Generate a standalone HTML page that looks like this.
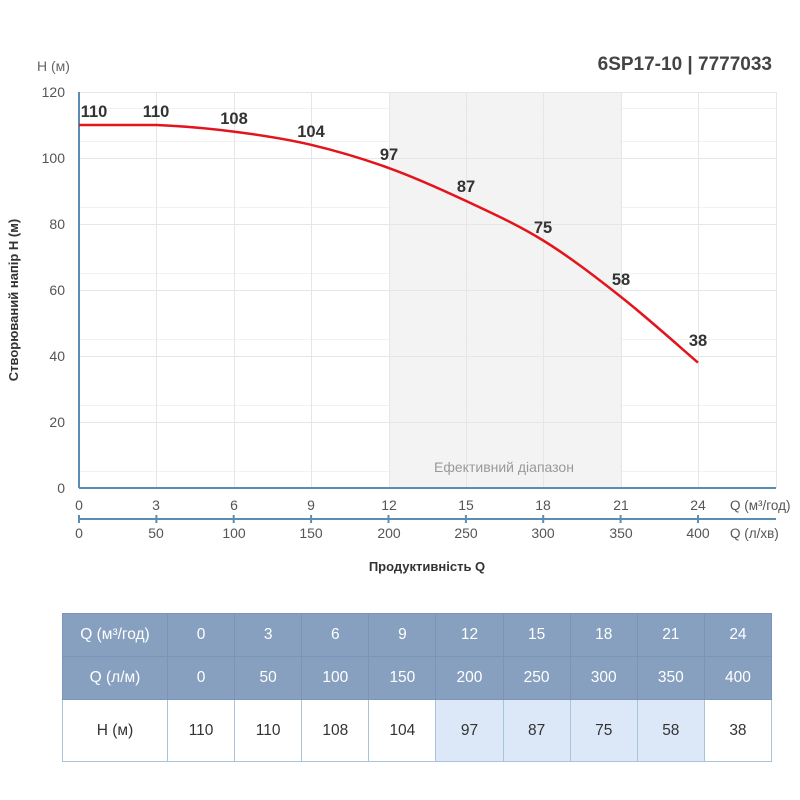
<!DOCTYPE html><html><head><meta charset="utf-8"><style>
body{margin:0;background:#fff;font-family:"Liberation Sans",sans-serif;}
table{position:absolute;left:62px;top:613px;border-collapse:collapse;width:710px;table-layout:fixed;}
td{text-align:center;font-size:15.5px;color:#333;border:1px solid #a9c3d9;padding:0;}
tr.h td{background:#87a0bf;color:#fff;height:42px;border-color:#7a95b5;}
tr.v td{height:61px;background:#fff;}
tr.v td.b{background:#dce8f7;}
</style></head><body>
<svg width="800" height="800" style="position:absolute;left:0;top:0" font-family="Liberation Sans, sans-serif">
<rect x="389" y="92" width="232" height="396" fill="#f3f3f3"/>
<g stroke="#f2f2f2" stroke-width="1">
<line x1="79" x2="776" y1="108.5" y2="108.5"/><line x1="79" x2="776" y1="141.5" y2="141.5"/><line x1="79" x2="776" y1="207.5" y2="207.5"/><line x1="79" x2="776" y1="273.5" y2="273.5"/><line x1="79" x2="776" y1="339.5" y2="339.5"/><line x1="79" x2="776" y1="405.5" y2="405.5"/><line x1="79" x2="776" y1="471.5" y2="471.5"/>
</g>
<g stroke="#e6e6e6" stroke-width="1">
<line x1="79" x2="776" y1="92.5" y2="92.5"/><line x1="79" x2="776" y1="158.5" y2="158.5"/><line x1="79" x2="776" y1="224.5" y2="224.5"/><line x1="79" x2="776" y1="290.5" y2="290.5"/><line x1="79" x2="776" y1="356.5" y2="356.5"/><line x1="79" x2="776" y1="422.5" y2="422.5"/>
<line x1="156.5" x2="156.5" y1="92" y2="488"/><line x1="234.5" x2="234.5" y1="92" y2="488"/><line x1="311.5" x2="311.5" y1="92" y2="488"/><line x1="389.5" x2="389.5" y1="92" y2="488"/><line x1="466.5" x2="466.5" y1="92" y2="488"/><line x1="543.5" x2="543.5" y1="92" y2="488"/><line x1="621.5" x2="621.5" y1="92" y2="488"/><line x1="698.5" x2="698.5" y1="92" y2="488"/><line x1="776.5" x2="776.5" y1="92" y2="488"/>
</g>
<line x1="79" x2="79" y1="92" y2="488" stroke="#5b8db3" stroke-width="2"/>
<line x1="79" x2="776" y1="488" y2="488" stroke="#5b8db3" stroke-width="2"/>
<line x1="79" x2="776" y1="519" y2="519" stroke="#5b8db3" stroke-width="2"/>
<g stroke="#5b8db3" stroke-width="2"><line x1="79" x2="79" y1="515" y2="523"/><line x1="156.4" x2="156.4" y1="515" y2="523"/><line x1="233.7" x2="233.7" y1="515" y2="523"/><line x1="311.1" x2="311.1" y1="515" y2="523"/><line x1="388.5" x2="388.5" y1="515" y2="523"/><line x1="465.9" x2="465.9" y1="515" y2="523"/><line x1="543.2" x2="543.2" y1="515" y2="523"/><line x1="620.6" x2="620.6" y1="515" y2="523"/><line x1="698" x2="698" y1="515" y2="523"/></g>
<text x="504" y="472" font-size="14" fill="#999" text-anchor="middle">Ефективний діапазон</text>
<g font-size="14" fill="#555" text-anchor="end"><text x="65" y="97">120</text><text x="65" y="163">100</text><text x="65" y="229">80</text><text x="65" y="295">60</text><text x="65" y="361">40</text><text x="65" y="427">20</text><text x="65" y="493">0</text></g>
<g font-size="14" fill="#555" text-anchor="middle">
<text x="79" y="510">0</text><text x="156" y="510">3</text><text x="234" y="510">6</text><text x="311" y="510">9</text><text x="389" y="510">12</text><text x="466" y="510">15</text><text x="543" y="510">18</text><text x="621" y="510">21</text><text x="698" y="510">24</text>
<text x="79" y="538">0</text><text x="156" y="538">50</text><text x="234" y="538">100</text><text x="311" y="538">150</text><text x="389" y="538">200</text><text x="466" y="538">250</text><text x="543" y="538">300</text><text x="621" y="538">350</text><text x="698" y="538">400</text>
</g>
<text x="730" y="510" font-size="13.5" fill="#555">Q (м³/год)</text>
<text x="730" y="538" font-size="13.5" fill="#555">Q (л/хв)</text>
<text x="37" y="71" font-size="14" fill="#666">H (м)</text>
<text x="772" y="70" font-size="19" font-weight="bold" fill="#444" text-anchor="end">6SP17-10 | 7777033</text>
<text x="427" y="571" font-size="13" font-weight="bold" fill="#333" text-anchor="middle">Продуктивність Q</text>
<text transform="translate(18,300) rotate(-90)" font-size="13" font-weight="bold" fill="#333" text-anchor="middle">Створюваний напір H (м)</text>
<path d="M79,125 C91.9,125 130.6,125 156.4,125 C182.2,126.1 207.9,128.3 233.7,131.6 C259.5,134.9 285.3,138.8 311.1,144.8 C336.9,150.9 362.7,158.6 388.5,167.9 C414.3,177.2 440.1,188.8 465.9,200.9 C491.7,213 517.4,224.6 543.2,240.5 C569,256.4 594.8,276.3 620.6,296.6 C646.4,316.9 685.1,351.6 698,362.6" fill="none" stroke="#e3141b" stroke-width="2.5"/>
<g font-size="16.5" font-weight="bold" fill="#333" text-anchor="middle">
<text x="94" y="117">110</text><text x="156" y="117">110</text><text x="234" y="124">108</text><text x="311" y="137">104</text><text x="389" y="160">97</text><text x="466" y="192">87</text><text x="543" y="233">75</text><text x="621" y="285">58</text><text x="698" y="346">38</text>
</g>
</svg>
<table>
<colgroup><col style="width:105px"><col span="9"></colgroup>
<tr class="h"><td>Q (м³/год)</td><td>0</td><td>3</td><td>6</td><td>9</td><td>12</td><td>15</td><td>18</td><td>21</td><td>24</td></tr>
<tr class="h"><td>Q (л/м)</td><td>0</td><td>50</td><td>100</td><td>150</td><td>200</td><td>250</td><td>300</td><td>350</td><td>400</td></tr>
<tr class="v"><td>H (м)</td><td>110</td><td>110</td><td>108</td><td>104</td><td class="b">97</td><td class="b">87</td><td class="b">75</td><td class="b">58</td><td>38</td></tr>
</table>
</body></html>
